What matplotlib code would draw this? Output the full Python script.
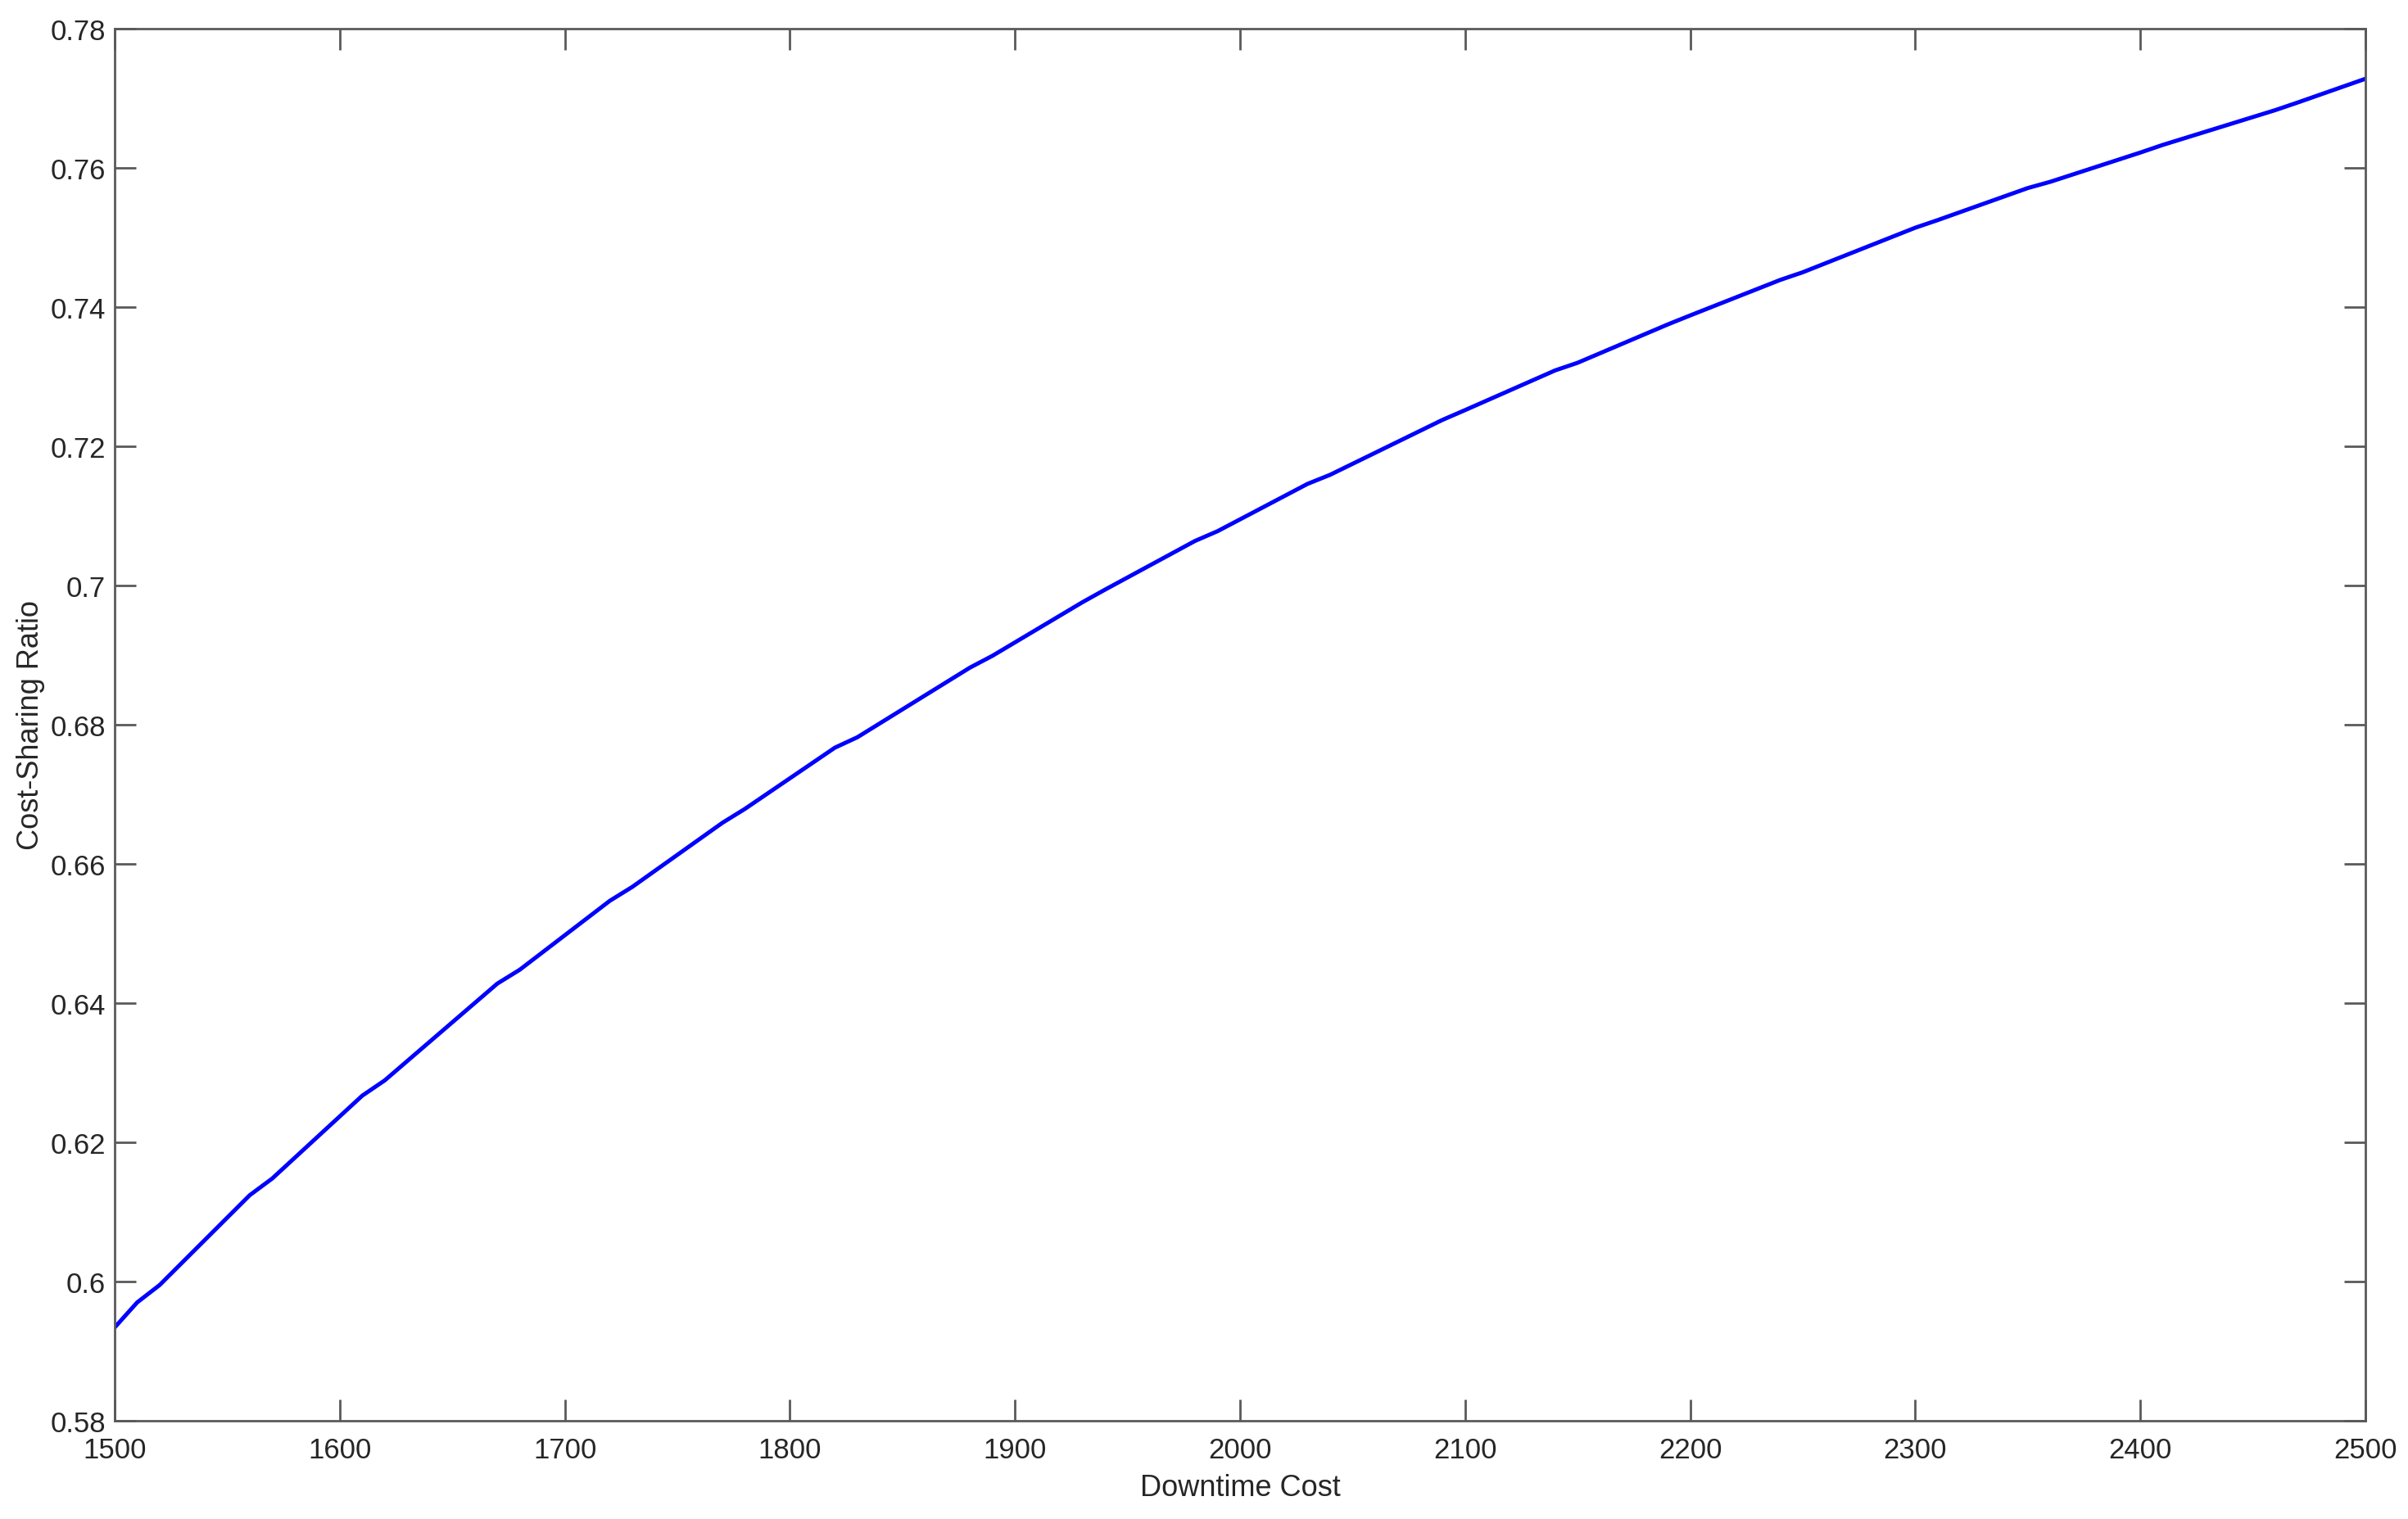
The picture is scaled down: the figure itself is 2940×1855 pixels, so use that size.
import matplotlib
matplotlib.use('Agg')
import matplotlib.pyplot as plt

# data (kinks of the curve)
cost = [1500, 1510, 1520, 1560, 1570, 1610, 1620, 1670, 1680, 1720, 1730,
        1770, 1780, 1820, 1830, 1880, 1890, 1930, 1940, 1980, 1990, 2030,
        2040, 2090, 2100, 2140, 2150, 2190, 2200, 2240, 2250, 2300, 2310,
        2350, 2360, 2400, 2410, 2460, 2470, 2500]
ratio = [0.5934, 0.5970, 0.5995, 0.6124, 0.6148, 0.6267, 0.6289, 0.6428, 0.6448,
         0.6547, 0.6567, 0.6659, 0.6679, 0.6767, 0.6782, 0.6882, 0.6899, 0.6976,
         0.6994, 0.7064, 0.7078, 0.7146, 0.7159, 0.7238, 0.7252, 0.7309, 0.7320,
         0.7375, 0.7388, 0.7439, 0.7450, 0.7514, 0.7525, 0.7571, 0.7580, 0.7622,
         0.7633, 0.7683, 0.7694, 0.7728]

xticks = list(range(1500, 2501, 100))
yticks = [0.58, 0.60, 0.62, 0.64, 0.66, 0.68, 0.70, 0.72, 0.74, 0.76, 0.78]
ytick_labels = ['0.58', '0.6', '0.62', '0.64', '0.66', '0.68', '0.7',
                '0.72', '0.74', '0.76', '0.78']

AX_COLOR = '#5a5a5a'
TXT = '#262626'

plt.rcParams['font.family'] = ['Liberation Sans', 'DejaVu Sans']

fig = plt.figure(figsize=(14.7, 9.28), dpi=200)
ax = fig.add_axes([140 / 2940, 1 - 1736 / 1856, (2888 - 140) / 2940, (1736 - 36) / 1856])

ax.plot(cost, ratio, color='#0000ff', lw=1.8)

ax.set_xlim(1500, 2500)
ax.set_ylim(0.58, 0.78)
ax.set_xticks(xticks)
ax.set_yticks(yticks)
ax.set_yticklabels(ytick_labels)

for sp in ax.spines.values():
    sp.set_color(AX_COLOR)
    sp.set_linewidth(1.0)
ax.tick_params(direction='in', length=9.5, width=1.0, color=AX_COLOR,
               labelcolor=TXT, labelsize=12.5, top=True, right=True, pad=7)
ax.tick_params(axis='y', pad=4)

ax.set_xlabel('Downtime Cost', fontsize=13, color=TXT, labelpad=4)
ax.set_ylabel('Cost-Sharing Ratio', fontsize=13, color=TXT, va='center')
ax.yaxis.set_label_coords(-34 / 2748 - 0.025, 0.5)

fig.savefig('out.png', dpi=200, facecolor='white')
